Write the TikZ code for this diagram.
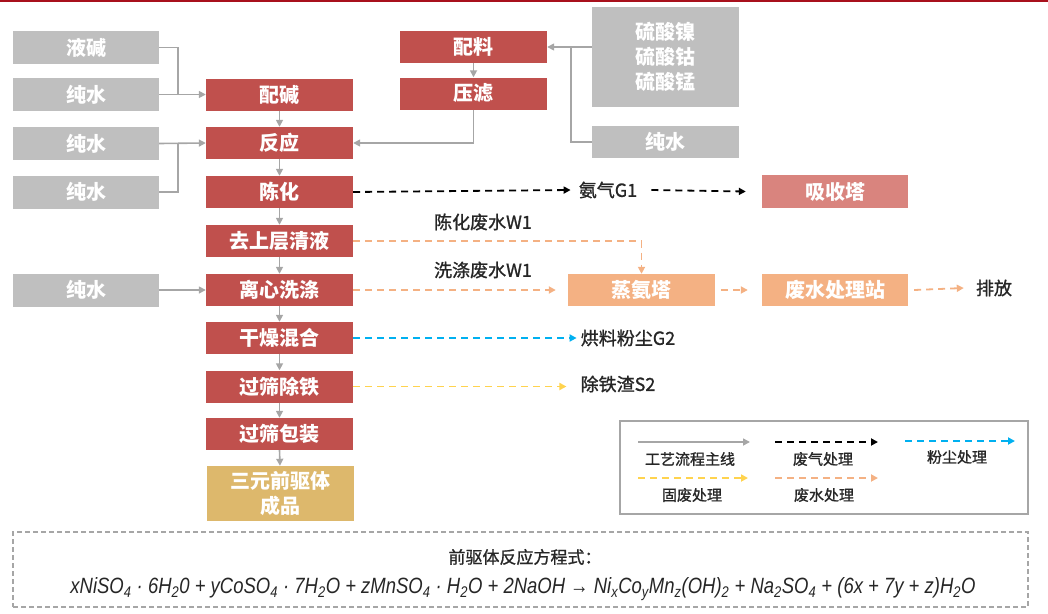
\documentclass[tikz,border=0pt]{standalone}
\usepackage{fontspec}
\setmainfont{Noto Sans CJK SC}
\newfontfamily\medfont{Noto Sans CJK SC}[RawFeature={embolden=1.2}]
\newfontfamily\eqfont{Liberation Sans}
\usetikzlibrary{arrows.meta}
\definecolor{cred}{HTML}{C0504D}
\definecolor{cgray}{HTML}{BFBFBF}
\definecolor{cgold}{HTML}{DDB86C}
\definecolor{corange}{HTML}{F4B183}
\definecolor{cpink}{HTML}{D9847E}
\definecolor{cblue}{HTML}{00B0F0}
\definecolor{cyellow}{HTML}{FFD34E}
\definecolor{carrow}{HTML}{A6A6A6}
\definecolor{ctop}{HTML}{A8101C}
\tikzset{
  box/.style={minimum width=147pt, minimum height=32pt, inner sep=0pt, text=white, font=\fontsize{20}{22}\selectfont\bfseries},
  graybox/.style={box, fill=cgray},
  redbox/.style={box, fill=cred},
  lbl/.style={inner sep=0pt, text=black!85, font=\fontsize{18}{20}\selectfont\medfont},
  tip/.style={-{Triangle[length=7pt,width=7pt]}},
  main/.style={draw=carrow, line width=1.6pt, tip},
  mline/.style={draw=carrow, line width=1.6pt},
  dsh/.style={line width=1.8pt, dash pattern=on 7pt off 5pt, tip},
  lgt/.style={inner sep=0pt, text=black!85, font=\fontsize{15}{17}\selectfont\medfont},
}
\begin{document}
\begin{tikzpicture}[x=1pt,y=-1pt]
\useasboundingbox (0,0) rectangle (1048,613);
\draw[ctop, line width=2pt] (0,1) -- (1048,1);
% left inputs
\node[graybox, minimum width=146pt, minimum height=33pt] (yj) at (86,47.5) {液碱};
\node[graybox, minimum width=146pt, minimum height=33pt] (cs1) at (86,94.5) {纯水};
\node[graybox, minimum width=146pt, minimum height=33pt] (cs2) at (86,143.5) {纯水};
\node[graybox, minimum width=146pt, minimum height=33pt] (cs3) at (86,192) {纯水};
\node[graybox, minimum width=146pt, minimum height=33pt] (cs4) at (86,290) {纯水};
% main column
\node[redbox] (pj) at (279.5,94.5) {配碱};
\node[redbox] (fy) at (279.5,143) {反应};
\node[redbox] (ch) at (279.5,192) {陈化};
\node[redbox] (qs) at (279.5,241) {去上层清液};
\node[redbox] (lx) at (279.5,290) {离心洗涤};
\node[redbox] (gz) at (279.5,338) {干燥混合};
\node[redbox] (gs) at (279.5,386.5) {过筛除铁};
\node[redbox] (bz) at (279.5,434) {过筛包装};
\node[box, fill=cgold, minimum height=55pt, align=center, font=\fontsize{20}{25}\selectfont\bfseries] (cp) at (280,493.5) {三元前驱体\\成品};
% upper right
\node[redbox] (pl) at (473.5,47) {配料};
\node[redbox] (yl) at (473.5,93.5) {压滤};
\node[graybox, minimum height=100pt, align=center, font=\fontsize{20}{25}\selectfont\bfseries] (ls) at (665.5,57) {硫酸镍\\硫酸钴\\硫酸锰};
\node[graybox] (cs5) at (665.5,142) {纯水};
\node[box, fill=cpink, minimum width=146pt, minimum height=33pt] (xs) at (835,191.5) {吸收塔};
\node[box, fill=corange] (za) at (641.5,290) {蒸氨塔};
\node[box, fill=corange, minimum width=146pt] (fs) at (835,290) {废水处理站};
% labels
\node[lbl] (pf) at (994,288) {排放};
\node[lbl] (aq) at (608,190) {氨气G1};
\node[lbl] (w1) at (483,222) {陈化废水W1};
\node[lbl] (w2) at (483,270) {洗涤废水W1};
\node[lbl] (g2) at (628,338) {烘料粉尘G2};
\node[lbl] (s2) at (618,384) {除铁渣S2};
% main connectors
\foreach \a/\b in {pj/fy,fy/ch,ch/qs,qs/lx,lx/gz,gz/gs,gs/bz,bz/cp,pl/yl}
  \draw[main] (\a.south) -- (\b.north);
\draw[mline] (yj.east) -| (178,94.5);
\draw[main] (cs1.east) -- (pj.west);
\draw[main] (cs2.east) -- (fy.west);
\draw[mline] (cs3.east) -| (178,143.5);
\draw[main] (cs4.east) -- (lx.west);
\draw[main] (yl.south) |- (fy.east);
\draw[main] (ls.west |- pl.east) -- (pl.east);
\draw[mline] (cs5.west) -| (571,47);
% side streams
\draw[dsh, black] (ch.east) -- ([xshift=-8pt]aq.west);
\draw[dsh, black] ([xshift=14pt]aq.east) -- ([xshift=-16pt]xs.west);
\draw[dsh, corange] (qs.east) -| (za.north);
\draw[dsh, corange] (lx.east) -- ([xshift=-12pt]za.west);
\draw[dsh, corange] ([xshift=6pt]za.east) -- ([xshift=-14pt]fs.west);
\draw[dsh, corange] ([xshift=6pt]fs.east) -- ([xshift=-12pt]pf.west);
\draw[dsh, cblue] (gz.east) -- ([xshift=-4pt]g2.west);
\draw[dsh, cyellow] (gs.east) -- ([xshift=-14pt]s2.west |- gs.east);
% legend
\node[draw=carrow, line width=1.2pt, minimum width=408pt, minimum height=93pt, inner sep=0pt] (lg) at (824,467.5) {};
\coordinate (l1a) at (638,442); \coordinate (l1b) at (750,442);
\coordinate (l2a) at (775,442); \coordinate (l2b) at (878,442);
\coordinate (l3a) at (905,441); \coordinate (l3b) at (1015,441);
\coordinate (l4a) at (638,478); \coordinate (l4b) at (748,478);
\coordinate (l5a) at (775,478); \coordinate (l5b) at (878,478);
\draw[main] (l1a) -- (l1b);
\draw[dsh, black] (l2a) -- (l2b);
\draw[dsh, cblue] (l3a) -- (l3b);
\draw[dsh, cyellow] (l4a) -- (l4b);
\draw[dsh, corange] (l5a) -- (l5b);
\node[lgt] (t1) at (690,459) {工艺流程主线};
\node[lgt] (t2) at (823,459) {废气处理};
\node[lgt] (t3) at (957,457) {粉尘处理};
\node[lgt] (t4) at (692,495) {固废处理};
\node[lgt] (t5) at (824,495) {废水处理};
% equation box
\node[draw=carrow, line width=1.2pt, dash pattern=on 5pt off 3pt, minimum width=1015pt, minimum height=75pt, inner sep=0pt] (eqb) at (520.5,569.5) {};
\node[inner sep=0pt, text=black!85, font=\fontsize{17}{19}\selectfont\medfont] (eqt) at (525,557) {前驱体反应方程式：};
\node[inner sep=0pt, text=black!85] (eq) at (523,589) {\resizebox{905pt}{16pt}{\eqfont\itshape\fontsize{16}{18}\selectfont xNiSO\textsubscript{4} · 6H\textsubscript{2}0 + yCoSO\textsubscript{4} · 7H\textsubscript{2}O + zMnSO\textsubscript{4} · H\textsubscript{2}O + 2NaOH → Ni\textsubscript{x}Co\textsubscript{y}Mn\textsubscript{z}(OH)\textsubscript{2} + Na\textsubscript{2}SO\textsubscript{4} + (6x + 7y + z)H\textsubscript{2}O}};
\end{tikzpicture}
\end{document}
